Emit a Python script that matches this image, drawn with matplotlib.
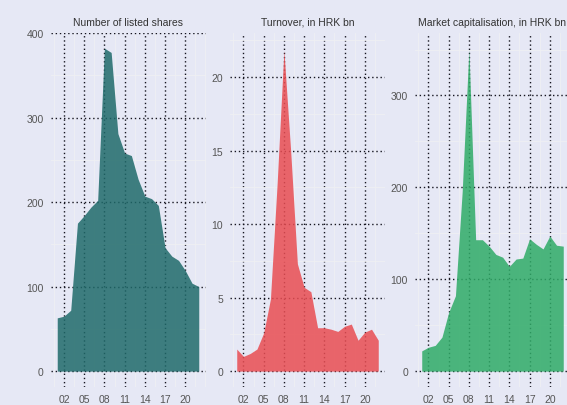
import matplotlib.pyplot as plt
from matplotlib.ticker import MultipleLocator

plt.rcParams['font.family'] = ['Liberation Sans', 'DejaVu Sans']

# Data (years 2001-2022)
years = list(range(2001, 2023))
listed_shares = [63, 65, 72, 175, 184, 194, 202, 382, 377, 281, 258, 255,
                 227, 207, 204, 196, 146, 136, 131, 119, 104, 100]
turnover = [1.5, 1.0, 1.2, 1.5, 2.6, 4.9, 12.8, 21.8, 15.0, 7.3, 5.7, 5.4,
            2.95, 2.95, 2.85, 2.7, 3.05, 3.2, 2.1, 2.65, 2.85, 2.1]
market_cap = [22, 26, 28, 37, 64, 82, 195, 350, 143, 143, 136, 127,
              124, 114, 122, 123, 144, 138, 133, 147, 137, 136]

tick_years = [2002, 2005, 2008, 2011, 2014, 2017, 2020]
tick_labels = ['02', '05', '08', '11', '14', '17', '20']

titles = ['Number of listed shares', 'Turnover, in HRK bn',
          'Market capitalisation, in HRK bn']
series = [listed_shares, turnover, market_cap]
colors = ['#1f6a6a', '#e94d52', '#2fab67']
y_tops = [400, 23.0, 368]
y_steps = [100, 5, 100]

bg = '#e6e8f5'
W, H = 567, 406
fig = plt.figure(figsize=(W / 100, H / 100), dpi=100, facecolor=bg)

# panel placement in pixels: left edge, width, top, bottom
lefts = [50.5, 230, 415]
width, top, bottom = 155, 34, 388

for i in range(3):
    ax = fig.add_axes([lefts[i] / W, (H - bottom) / H, width / W, (bottom - top) / H])
    ax.set_facecolor(bg)
    for s in ax.spines.values():
        s.set_visible(False)

    ax.fill_between(years, series[i], 0, color=colors[i], alpha=0.85,
                    linewidth=0, zorder=2)

    ax.set_xlim(2000, 2023)
    ax.set_ylim(-0.047 * y_tops[i], y_tops[i])
    ax.set_xticks(tick_years)
    ax.set_xticklabels(tick_labels)
    ax.yaxis.set_major_locator(MultipleLocator(y_steps[i]))
    # faint lines half way between the dotted ones
    ax.xaxis.set_minor_locator(MultipleLocator(1.5, offset=1.0))
    ax.yaxis.set_minor_locator(MultipleLocator(y_steps[i] / 2))
    ax.set_axisbelow(True)
    ax.grid(which='major', color='#15151f', linestyle=(0, (1, 2.0)), linewidth=1.0)
    ax.grid(which='minor', color='#eff0f3', linestyle='-', linewidth=0.6)
    ax.tick_params(which='both', length=0, labelsize=7.5, labelcolor='#555555')
    ax.tick_params(axis='x', pad=5)
    ax.tick_params(axis='y', pad=5)
    ax.set_title(titles[i], fontsize=7.5, color='#333333', pad=6)

fig.savefig('out.png', dpi=100, facecolor=bg)
